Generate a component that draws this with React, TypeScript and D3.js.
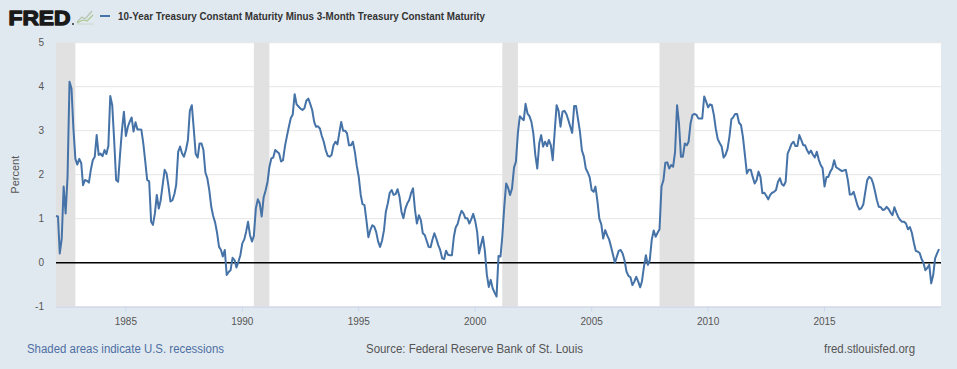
import React from 'react';
import * as d3 from 'd3';

// monthly spread, one array per decade (Jan of first year onward)
const spread1982to1989 = [
  1.06, 1.05, 0.21, 0.55, 1.73, 1.12, 1.95, 4.11, 3.96, 3.05, 2.36, 2.23,
  2.36, 2.26, 1.76, 1.88, 1.86, 1.82, 2.11, 2.33, 2.41, 2.90, 2.45, 2.48,
  2.42, 2.56, 2.47, 2.65, 3.79, 3.58, 2.79, 1.88, 1.84, 2.45, 3.02, 3.43,
  2.88, 3.09, 3.20, 3.30, 2.98, 3.19, 3.03, 3.03, 3.02, 2.71, 2.30, 1.88,
  1.85, 0.93, 0.86, 1.12, 1.54, 1.23, 1.42, 1.77, 2.11, 2.03, 1.73, 1.39,
  1.42, 1.56, 1.77, 2.52, 2.64, 2.48, 2.41, 2.56, 2.79, 3.45, 3.58, 3.05,
  2.47, 2.39, 2.71, 2.71, 2.56, 2.05, 1.92, 1.65, 1.27, 1.06, 0.91, 0.68,
  0.36, 0.29, 0.14, 0.29, -0.28, -0.21, -0.17, 0.11, 0.06, -0.11, 0.02, 0.17,
];

const spread1990to1999 = [
  0.44, 0.53, 0.70, 0.93, 0.63, 0.48, 0.61, 1.23, 1.44, 1.35, 1.05, 1.48,
  1.64, 1.84, 2.17, 2.37, 2.39, 2.56, 2.52, 2.48, 2.30, 2.33, 2.65, 2.87,
  3.09, 3.29, 3.36, 3.83, 3.60, 3.55, 3.50, 3.47, 3.51, 3.68, 3.73, 3.61,
  3.47, 3.20, 3.09, 3.10, 3.05, 2.88, 2.75, 2.56, 2.43, 2.41, 2.45, 2.67,
  2.75, 2.69, 2.94, 3.20, 3.00, 3.00, 2.94, 2.67, 2.67, 2.75, 2.52, 2.20,
  1.95, 1.54, 1.33, 1.31, 0.97, 0.58, 0.74, 0.85, 0.82, 0.70, 0.48, 0.36,
  0.50, 0.74, 1.16, 1.35, 1.59, 1.65, 1.54, 1.56, 1.67, 1.50, 1.16, 1.01,
  1.23, 1.35, 1.42, 1.58, 1.69, 1.20, 0.89, 1.08, 0.97, 0.67, 0.63, 0.50,
  0.36, 0.35, 0.52, 0.67, 0.55, 0.40, 0.29, 0.10, 0.08, 0.27, 0.18, 0.17,
  0.17, 0.59, 0.80, 0.88, 1.05, 1.18, 1.12, 1.01, 1.01, 0.89, 0.99, 1.11,
];

const spread2000to2009 = [
  0.95, 0.70, 0.21, 0.40, 0.59, 0.27, -0.26, -0.55, -0.39, -0.58, -0.68, -0.77,
  0.15, 0.14, 0.59, 1.27, 1.80, 1.70, 1.54, 1.69, 2.16, 2.30, 2.95, 3.33,
  3.28, 3.24, 3.61, 3.39, 3.33, 3.20, 2.94, 2.45, 2.14, 2.71, 2.90, 2.64,
  2.75, 2.65, 2.79, 2.67, 2.33, 2.98, 3.58, 3.45, 3.09, 3.43, 3.45, 3.38,
  3.24, 3.09, 2.95, 3.56, 3.56, 3.26, 2.98, 2.55, 2.41, 2.14, 2.05, 1.94,
  1.65, 1.61, 1.73, 1.40, 1.00, 0.87, 0.55, 0.74, 0.62, 0.53, 0.36, 0.18,
  0.00, 0.14, 0.27, 0.29, 0.21, 0.05, -0.20, -0.30, -0.33, -0.51, -0.43, -0.32,
  -0.43, -0.56, -0.42, -0.09, 0.17, -0.05, 0.06, 0.52, 0.73, 0.59, 0.68, 0.76,
  1.73, 1.88, 2.27, 2.28, 2.14, 2.22, 2.18, 2.52, 3.58, 3.17, 2.41, 2.41,
  2.71, 2.67, 2.75, 3.17, 3.36, 3.38, 3.36, 3.28, 3.28, 3.28, 3.78, 3.66,
];

const spread2010to2019 = [
  3.53, 3.60, 3.58, 3.36, 3.05, 2.81, 2.72, 2.64, 2.39, 2.45, 2.58, 2.86,
  3.26, 3.31, 3.38, 3.38, 3.18, 3.13, 2.86, 2.45, 2.03, 2.11, 2.11, 1.95,
  1.80, 1.88, 2.07, 1.95, 1.58, 1.59, 1.52, 1.44, 1.54, 1.59, 1.61, 1.65,
  1.84, 1.92, 1.79, 1.75, 1.84, 2.48, 2.58, 2.70, 2.75, 2.65, 2.65, 2.90,
  2.79, 2.67, 2.67, 2.56, 2.48, 2.55, 2.46, 2.39, 2.52, 2.35, 2.22, 2.15,
  1.73, 1.95, 1.95, 2.07, 2.14, 2.33, 2.17, 2.14, 2.11, 2.08, 2.10, 2.11,
  1.88, 1.55, 1.55, 1.61, 1.46, 1.30, 1.21, 1.24, 1.33, 1.61, 1.88, 1.95,
  1.92, 1.80, 1.63, 1.42, 1.27, 1.26, 1.20, 1.21, 1.27, 1.22, 1.14, 1.08,
  1.26, 1.14, 1.04, 0.97, 0.93, 0.93, 0.89, 0.76, 0.81, 0.68, 0.46, 0.27,
  0.25, 0.22, 0.09, 0.00, -0.17, -0.12, -0.05, -0.47, -0.28, 0.10, 0.21, 0.31,
];

const decadeStarts = [1982, 1990, 2000, 2010];

const recessions = [
  ['1981-07-01', '1982-11-01'],
  ['1990-07-01', '1991-03-01'],
  ['2001-03-01', '2001-11-01'],
  ['2007-12-01', '2009-06-01'],
];

const yTicks = [-1, 0, 1, 2, 3, 4, 5];
const xTickYears = [1985, 1990, 1995, 2000, 2005, 2010, 2015];

const title = '10-Year Treasury Constant Maturity Minus 3-Month Treasury Constant Maturity';

export default function App() {
  const width = 957;
  const height = 369;
  const plot = { left: 56, right: 941, top: 42.7, bottom: 306.7 };
  const font = '"Liberation Sans", Arial, Helvetica, sans-serif';

  const data = [spread1982to1989, spread1990to1999, spread2000to2009, spread2010to2019]
    .flatMap((arr, i) => arr.map((v, m) => ({
      date: new Date(decadeStarts[i] + Math.floor(m / 12), m % 12, 1),
      value: v,
    })));

  const x = d3.scaleTime()
    .domain([new Date(1982, 0, 1), new Date(2019, 11, 1)])
    .range([plot.left, 939]);

  const y = d3.scaleLinear()
    .domain([-1, 5])
    .range([plot.bottom, plot.top]);

  const line = d3.line<{ date: Date; value: number }>()
    .x(d => x(d.date))
    .y(d => y(d.value));

  const clampX = (s: string) => Math.max(plot.left, x(new Date(s)));

  return (
    <svg
      width={width}
      height={height}
      style={{ position: 'fixed', left: 0, top: 0, fontFamily: font }}
    >
      <rect width={width} height={height} fill="#e1e9f0" />

      {/* header */}
      <text x={8.5} y={24.5} fontSize={20} fontWeight={900} fill="#1a1a1a"
        stroke="#1a1a1a" strokeWidth={1.3} strokeLinejoin="round"
        textLength={62} lengthAdjust="spacingAndGlyphs">FRED</text>
      <circle cx={73} cy={24} r={0.9} fill="#1a1a1a" />
      <g fill="none" strokeWidth={1.2} strokeLinejoin="round">
        <path d="M77,22 L82,17 L85,19 L92,11" stroke="#b8c4b0" />
        <path d="M77,23 L83,20 L87,21 L93,15" stroke="#a9c98c" />
        <path d="M77,24 L94,24" stroke="#c8d0c4" strokeWidth={0.8} />
      </g>
      <line x1={100} x2={110} y1={16} y2={16} stroke="#4572a7" strokeWidth={2} />
      <text x={118} y={20} fontSize={10.5} fontWeight="bold" fill="#333"
        textLength={367} lengthAdjust="spacingAndGlyphs">{title}</text>

      {/* plot area */}
      <rect x={plot.left} y={plot.top} width={plot.right - plot.left}
        height={plot.bottom - plot.top} fill="#ffffff" />
      {yTicks.map(t => (
        <line key={t} x1={plot.left} x2={plot.right} y1={y(t)} y2={y(t)}
          stroke="#e6e6e6" strokeWidth={1} />
      ))}
      {recessions.map(([a, b]) => (
        <rect key={a} x={clampX(a)} y={plot.top} width={x(new Date(b)) - clampX(a)}
          height={plot.bottom - plot.top} fill="#e1e1e1" />
      ))}
      <line x1={plot.left} x2={plot.right} y1={y(0)} y2={y(0)} stroke="#000" strokeWidth={1.6} />
      <path d={line(data) || ''} fill="none" stroke="#4572a7" strokeWidth={2}
        strokeLinejoin="round" />

      {/* y axis */}
      {yTicks.map(t => (
        <text key={t} x={44} y={y(t) + 3.5} fontSize={10} fill="#555" textAnchor="end">{t}</text>
      ))}
      <text transform={`translate(19,${(plot.top + plot.bottom) / 2}) rotate(-90)`}
        fontSize={11} fill="#555" textAnchor="middle">Percent</text>

      {/* x axis */}
      <line x1={plot.left} x2={plot.right} y1={plot.bottom + 0.5} y2={plot.bottom + 0.5}
        stroke="#ccd6eb" strokeWidth={1} />
      {xTickYears.map(yr => {
        const px = x(new Date(yr, 0, 1));
        return (
          <g key={yr}>
            <line x1={px} x2={px} y1={plot.bottom} y2={plot.bottom + 5} stroke="#ccd6eb" />
            <text x={px} y={324.5} fontSize={10} fill="#555" textAnchor="middle">{yr}</text>
          </g>
        );
      })}

      {/* footer */}
      <text x={27} y={352.5} fontSize={12} fill="#4d6fa3"
        textLength={197} lengthAdjust="spacingAndGlyphs">Shaded areas indicate U.S. recessions</text>
      <text x={474.5} y={352.5} fontSize={12} fill="#555" textAnchor="middle"
        textLength={217} lengthAdjust="spacingAndGlyphs">Source: Federal Reserve Bank of St. Louis</text>
      <text x={915} y={352.5} fontSize={12} fill="#555" textAnchor="end"
        textLength={91} lengthAdjust="spacingAndGlyphs">fred.stlouisfed.org</text>
    </svg>
  );
}
